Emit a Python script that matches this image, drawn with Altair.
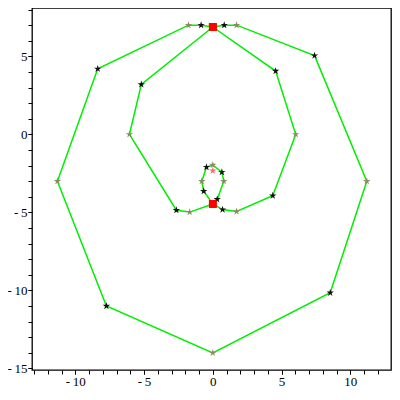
import altair as alt
import pandas as pd

# Path vertices (closed curve), in drawing order
path_x = [0, -0.85, -1.77, -8.37, -11.3, -7.74, 0, 8.54, 11.2, 7.4, 1.73, 0.83, 0,
          4.57, 6.03, 4.36, 1.73, 0.71, 0, -0.66, -0.8, -0.46, 0, 0.66, 0.8, 0.32, 0,
          -1.68, -2.65, -6.06, -5.2, 0]
path_y = [6.88, 7.0, 7.0, 4.2, -3.0, -11.0, -14.0, -10.15, -3.0, 5.05, 7.0, 7.0, 6.88,
          4.06, 0.0, -3.93, -4.94, -4.82, -4.46, -3.64, -3.0, -2.1, -1.96, -2.42, -3.0, -4.16, -4.46,
          -4.98, -4.86, 0.0, 3.2, 6.88]
path_kind = ["red", "black", "gray", "black", "gray", "black", "gray", "black", "gray", "black", "gray", "black", "red",
             "black", "gray", "black", "gray", "black", "red", "black", "gray", "black", "gray", "black", "gray", "black", "red",
             "gray", "black", "gray", "black", "red"]

# Extra isolated marker
extra_x = [0]
extra_y = [-2.33]
extra_kind = ["pink"]

x_labels = [-10, -5, 0, 5, 10]
y_labels = [-15, -10, -5, 0, 5]
x_minor = list(range(-13, 13))
y_minor = list(range(-15, 9))

STAR = "M0,-1L0.2245,-0.309L0.951,-0.309L0.363,0.118L0.588,0.809L0,0.382L-0.588,0.809L-0.363,0.118L-0.951,-0.309L-0.2245,-0.309Z"

path_df = pd.DataFrame({"x": path_x, "y": path_y, "kind": path_kind, "order": list(range(len(path_x)))})
mark_df = pd.DataFrame({"x": path_x + extra_x, "y": path_y + extra_y, "kind": path_kind + extra_kind})

label_expr = "datum.value < 0 ? '-\u2009' + (-datum.value) : '' + datum.value"

xs = alt.Scale(domain=[-13.15, 12.96], nice=False, zero=False)
ys = alt.Scale(domain=[-15.1, 8.1], nice=False, zero=False)

common = dict(title=None, grid=False, domain=False, tickSize=4, tickColor="black")
lab = dict(labelExpr=label_expr, labelFont="Liberation Serif", labelFontSize=13,
           labelColor="black", labelFlush=False, labelOverlap=False)
xaxis_major = alt.Axis(values=x_labels, orient="bottom", labelPadding=1, **common, **lab)
yaxis_major = alt.Axis(values=y_labels, orient="left", labelPadding=1, **common, **lab)
xaxis_minor = alt.Axis(values=x_minor, orient="bottom", labels=False, **common)
yaxis_minor = alt.Axis(values=y_minor, orient="left", labels=False, **common)

line = alt.Chart(path_df).mark_line(color="#00ee00", strokeWidth=1.5).encode(
    x=alt.X("x:Q", scale=xs, axis=xaxis_major),
    y=alt.Y("y:Q", scale=ys, axis=yaxis_major),
    order="order:Q",
)

kinds = ["black", "gray", "red", "pink"]
pts = alt.Chart(mark_df).mark_point(filled=True, opacity=1, strokeWidth=0).encode(
    x=alt.X("x:Q", scale=xs, axis=xaxis_minor),
    y=alt.Y("y:Q", scale=ys, axis=yaxis_minor),
    color=alt.Color("kind:N", scale=alt.Scale(domain=kinds, range=["#111111", "#8c8c62", "#ff0000", "#ff6a6a"]), legend=None),
    shape=alt.Shape("kind:N", scale=alt.Scale(domain=kinds, range=[STAR, STAR, "square", STAR]), legend=None),
    size=alt.Size("kind:N", scale=alt.Scale(domain=kinds, range=[60, 60, 45, 55]), legend=None),
)

chart = (line + pts).resolve_axis(x="independent", y="independent").properties(
    width=359, height=362,
    autosize=alt.AutoSizeParams(type="none"),
    padding={"left": 24, "top": 0, "right": 1, "bottom": 18},
).configure_view(stroke="black", strokeWidth=1.3)

chart.save("out.html", embed_options={"renderer": "svg", "actions": False})
